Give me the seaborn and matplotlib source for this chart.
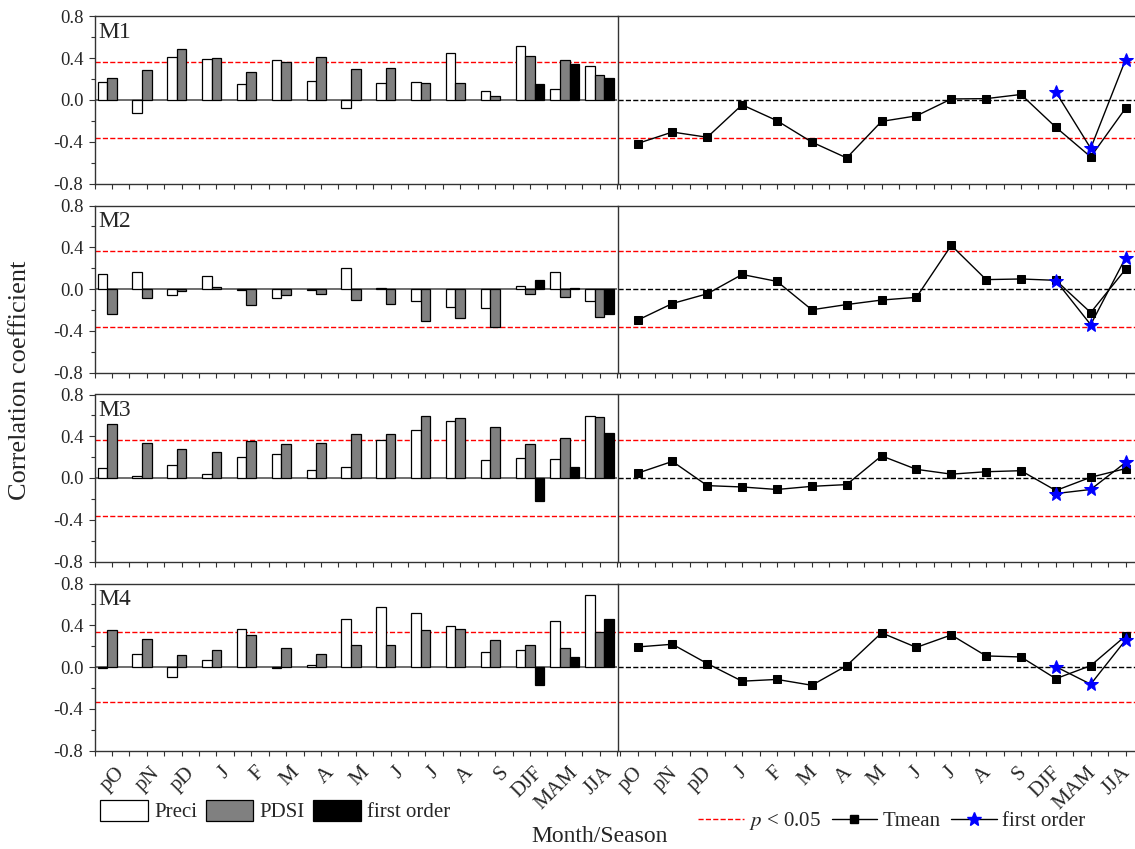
import numpy as np
import pandas as pd
import matplotlib
matplotlib.use('Agg')
import matplotlib.pyplot as plt
import matplotlib.transforms as mtransforms
from matplotlib.patches import Patch
from matplotlib.lines import Line2D
from matplotlib.ticker import MultipleLocator
import seaborn as sns

# month / season labels (p = previous year)
labels = ['pO', 'pN', 'pD', 'J', 'F', 'M', 'A', 'M', 'J', 'J', 'A', 'S', 'DJF', 'MAM', 'JJA']
sites = ['M1', 'M2', 'M3', 'M4']
season_idx = [12, 13, 14]

# correlation with precipitation
preci = [
    [0.172, -0.129, 0.41, 0.397, 0.155, 0.38, 0.178, -0.073, 0.162, 0.175, 0.446, 0.083, 0.519, 0.102, 0.321],
    [0.139, 0.159, -0.056, 0.129, -0.007, -0.083, -0.007, 0.198, 0.007, -0.119, -0.175, -0.179, 0.033, 0.162, -0.116],
    [0.099, 0.02, 0.129, 0.043, 0.205, 0.228, 0.073, 0.102, 0.367, 0.463, 0.542, 0.175, 0.195, 0.185, 0.592],
    [-0.007, 0.126, -0.093, 0.063, 0.367, -0.013, 0.02, 0.46, 0.575, 0.516, 0.397, 0.142, 0.162, 0.436, 0.688],
]
# correlation with PDSI
pdsi = [
    [0.208, 0.288, 0.486, 0.407, 0.264, 0.364, 0.41, 0.298, 0.311, 0.165, 0.162, 0.043, 0.426, 0.38, 0.238],
    [-0.235, -0.089, -0.02, 0.017, -0.149, -0.056, -0.046, -0.109, -0.145, -0.304, -0.278, -0.364, -0.05, -0.076, -0.268],
    [0.519, 0.34, 0.281, 0.251, 0.357, 0.321, 0.331, 0.426, 0.42, 0.598, 0.579, 0.489, 0.321, 0.38, 0.588],
    [0.35, 0.271, 0.112, 0.162, 0.311, 0.185, 0.122, 0.212, 0.212, 0.357, 0.364, 0.255, 0.208, 0.182, 0.34],
]
# first order series, seasons only (DJF, MAM, JJA)
fo_bar = [
    [0.152, 0.344, 0.212],
    [0.083, 0.005, -0.235],
    [-0.225, 0.106, 0.433],
    [-0.172, 0.093, 0.463],
]
# correlation with mean temperature
tmean = [
    [-0.417, -0.307, -0.357, -0.046, -0.198, -0.403, -0.555, -0.205, -0.152, 0.01, 0.013, 0.053, -0.261, -0.545, -0.079],
    [-0.299, -0.139, -0.046, 0.139, 0.073, -0.199, -0.149, -0.106, -0.08, 0.418, 0.09, 0.096, 0.083, -0.226, 0.189],
    [0.046, 0.159, -0.073, -0.086, -0.11, -0.08, -0.063, 0.212, 0.083, 0.037, 0.06, 0.07, -0.12, 0.007, 0.09],
    [0.192, 0.218, 0.033, -0.136, -0.119, -0.175, 0.013, 0.327, 0.188, 0.307, 0.106, 0.096, -0.112, 0.013, 0.298],
]
fo_temp = [
    [0.076, -0.463, 0.387],
    [0.08, -0.342, 0.299],
    [-0.149, -0.11, 0.149],
    [0.003, -0.165, 0.258],
]
# p < 0.05 thresholds
sig = [0.365, 0.36, 0.36, 0.34]

sns.set_style('ticks')
plt.rcParams['font.family'] = ['Liberation Serif', 'DejaVu Serif']
plt.rcParams['mathtext.fontset'] = 'stix'

W, H = 1135, 849
fig = plt.figure(figsize=(W / 100, H / 100), dpi=100)

hue_order = ['Preci', 'PDSI', 'first order']
palette = {'Preci': 'white', 'PDSI': '#808080', 'first order': 'black'}
spine_c = '#333333'


def style_axes(ax, last_row, dx):
    for s in ax.spines.values():
        s.set_visible(True)
        s.set_color(spine_c)
        s.set_linewidth(1)
    ax.set_ylim(-0.8, 0.8)
    ax.xaxis.set_minor_locator(MultipleLocator(0.5))
    ax.tick_params(axis='x', which='both', direction='out', length=3.5, width=0.8,
                   color=spine_c, labelsize=15, pad=2)
    ax.set_xticks(range(15))
    if last_row:
        offset = mtransforms.ScaledTranslation(dx / 100, -5 / 100, fig.dpi_scale_trans)
        ax.set_xticklabels(labels, rotation=45, ha='right')
        for lab in ax.get_xticklabels():
            lab.set_transform(lab.get_transform() + offset)
    else:
        ax.set_xticklabels([])
    ax.set_xlabel('')
    ax.set_ylabel('')


for i, site in enumerate(sites):
    top = 16.5 + i * 189
    h = 167
    bottom = 1 - (top + h) / H
    axl = fig.add_axes([94.5 / W, bottom, (617 - 94.5) / W, h / H])
    axr = fig.add_axes([618 / W, bottom, (1143 - 618) / W, h / H])

    # bars: Preci, PDSI, first order
    rows = []
    for k in range(15):
        rows.append({'idx': k, 'var': 'Preci', 'r': preci[i][k]})
        rows.append({'idx': k, 'var': 'PDSI', 'r': pdsi[i][k]})
    for k, v in zip(season_idx, fo_bar[i]):
        rows.append({'idx': k, 'var': 'first order', 'r': v})
    df = pd.DataFrame(rows)
    sns.barplot(data=df, x='idx', y='r', hue='var', hue_order=hue_order,
                order=list(range(15)), palette=palette, width=0.82,
                edgecolor='black', linewidth=0.9, errorbar=None,
                legend=False, ax=axl, zorder=3)
    axl.axhline(0, color='#555555', lw=1.2, zorder=2)
    for t in (sig[i], -sig[i]):
        axl.axhline(t, color='red', ls='--', lw=1, zorder=1)
    axl.set_xlim(-0.5, 14.5)
    style_axes(axl, i == 3, 17)
    axl.spines['right'].set_visible(False)
    axl.yaxis.set_major_locator(MultipleLocator(0.4))
    axl.yaxis.set_minor_locator(MultipleLocator(0.2))
    axl.set_yticks([-0.8, -0.4, 0.0, 0.4, 0.8])
    axl.set_yticklabels(['-0.8', '-0.4', '0.0', '0.4', '0.8'])
    axl.tick_params(axis='y', which='major', direction='out', length=4, width=0.8,
                    color=spine_c, labelsize=13.5, pad=4)
    axl.tick_params(axis='y', which='minor', direction='out', length=3, width=0.8,
                    color=spine_c)
    axl.text(0.007, 0.965, site, transform=axl.transAxes, ha='left', va='top',
             fontsize=17)

    # lines: Tmean and first order
    axr.axhline(0, color='black', ls='--', lw=1, zorder=1)
    for t in (sig[i], -sig[i]):
        axr.axhline(t, color='red', ls='--', lw=1, zorder=1)
    sns.lineplot(x=list(range(15)), y=tmean[i], color='black', lw=1, marker='s',
                 markersize=6, markeredgecolor='black', ax=axr, zorder=3)
    sns.lineplot(x=season_idx, y=fo_temp[i], color='black', lw=1, marker='*',
                 markersize=10, markerfacecolor='blue', markeredgecolor='blue',
                 ax=axr, zorder=4)
    axr.set_xlim(-0.56, 14.5)
    style_axes(axr, i == 3, 9)
    axr.tick_params(axis='y', which='both', left=False, labelleft=False)

fig.text(20 / W, 1 - 380 / H, 'Correlation coefficient', rotation=90,
         ha='center', va='center', fontsize=19)
fig.text(600 / W, 1 - 837 / H, 'Month/Season', ha='center', va='center', fontsize=17)

bar_handles = [Patch(facecolor=palette[k], edgecolor='black', linewidth=0.9, label=k)
               for k in hue_order]
fig.legend(handles=bar_handles, loc='center left', bbox_to_anchor=(100 / W, 1 - 811 / H),
           ncol=3, frameon=False, fontsize=15, handlelength=2.3, handleheight=1.2,
           handletextpad=0.3, columnspacing=0.4, borderpad=0, borderaxespad=0)

line_handles = [
    Line2D([], [], color='red', ls='--', lw=1, label='$p$ < 0.05'),
    Line2D([], [], color='black', lw=1, marker='s', markersize=6, label='Tmean'),
    Line2D([], [], color='black', lw=1, marker='*', markersize=10,
           markerfacecolor='blue', markeredgecolor='blue', label='first order'),
]
fig.legend(handles=line_handles, loc='center left', bbox_to_anchor=(698 / W, 1 - 821 / H),
           ncol=3, frameon=False, fontsize=15, handlelength=2.2,
           handletextpad=0.25, columnspacing=0.5, borderpad=0, borderaxespad=0)

fig.savefig('out.png', dpi=100)
